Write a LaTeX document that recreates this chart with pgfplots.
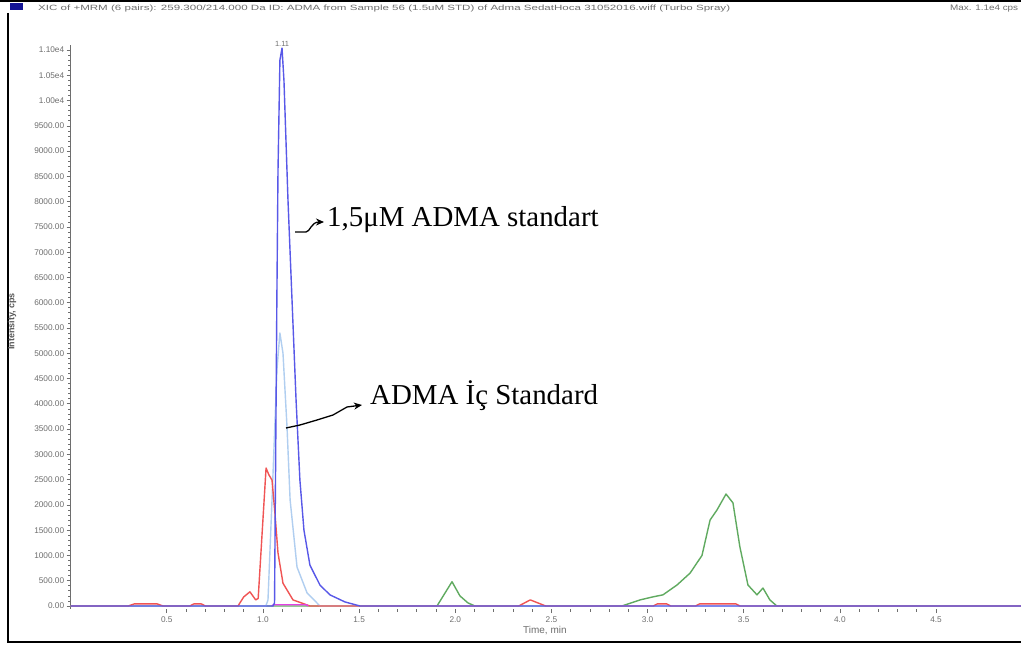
\documentclass[border=0pt]{standalone}
\usepackage{fontspec}
\setmainfont{Liberation Serif}
\newfontfamily\arialfont{Liberation Sans}
\usepackage{pgfplots}
\pgfplotsset{compat=1.18}
\usetikzlibrary{arrows.meta}
\definecolor{adblue}{RGB}{88,88,232}
\definecolor{adlight}{RGB}{176,206,240}
\definecolor{adred}{RGB}{240,84,84}
\definecolor{adgreen}{RGB}{96,170,96}
\definecolor{admag}{RGB}{228,64,228}
\definecolor{tickgray}{RGB}{110,110,110}
\definecolor{hdrblue}{RGB}{20,20,150}

\begin{document}
\begin{tikzpicture}
\useasboundingbox (0bp,0bp) rectangle (1021bp,646bp);
\begin{scope}[x=1bp,y=1bp]
\fill[white] (0,0) rectangle (1021,646);
% frame
\draw[black, line width=2.5bp] (0,645) -- (1021,645);
\draw[black, line width=2.5bp] (8,633) -- (8,4) -- (1021,4);
\fill[hdrblue] (10,636) rectangle (23,643);
\node[anchor=west, inner sep=0pt, text=tickgray] at (38,637.5)
  {\resizebox{692bp}{5.5bp}{\arialfont XIC of +MRM (6 pairs): 259.300/214.000 Da ID: ADMA from Sample 56 (1.5uM STD) of Adma SedatHoca 31052016.wiff (Turbo Spray)}};
\node[anchor=west, inner sep=0pt, text=tickgray] at (950,637.5)
  {\resizebox{68bp}{5.5bp}{\arialfont Max. 1.1e4 cps}};
\end{scope}

\begin{axis}[
  at={(70.7bp,37bp)}, anchor=south west,
  scale only axis, width=950.3bp, height=564bp,
  xmin=0, xmax=4.942, ymin=-60, ymax=11100,
  scaled y ticks=false, scaled x ticks=false,
  axis x line=bottom, axis y line=left,
  axis line style={-},
  x axis line style={draw=none},
  y axis line style={tickgray, line width=0.9bp},
  tick style={tickgray, line width=0.7bp},
  tick align=outside,
  major tick length=4bp, minor tick length=2.5bp,
  xtick={0.5,1,1.5,2,2.5,3,3.5,4,4.5},
  xticklabels={0.5,1.0,1.5,2.0,2.5,3.0,3.5,4.0,4.5},
  minor x tick num=4,
  ytick={0,500,...,11000},
  yticklabels={0.00,500.00,1000.00,1500.00,2000.00,2500.00,3000.00,3500.00,4000.00,4500.00,5000.00,5500.00,6000.00,6500.00,7000.00,7500.00,8000.00,8500.00,9000.00,9500.00,1.00e4,1.05e4,1.10e4},
  minor y tick num=4,
  ticklabel style={font=\arialfont\fontsize{8.3}{9}\selectfont, text=tickgray},
  yticklabel style={xshift=1bp},
  xlabel={Time, min},
  xlabel style={at={(axis description cs:0.499,-0.039)}, anchor=center,
    font=\arialfont\fontsize{10}{11}\selectfont, text=tickgray},
  ylabel={Intensity, cps},
  ylabel style={at={(axis description cs:-0.0618,0.51)}, anchor=center,
    font=\arialfont\bfseries\fontsize{9}{10}\selectfont, text=tickgray!80!black},
  clip=false,
  every axis plot/.append style={line width=1.4bp, line join=round},
]
% green
\addplot[adgreen] coordinates {(0,0) (1.905,0) (1.983,480) (2.024,200) (2.066,60) (2.102,0)
 (2.867,0) (2.961,120) (3.028,180) (3.080,220) (3.153,415) (3.221,650) (3.283,1000)
 (3.325,1700) (3.361,1900) (3.408,2215) (3.444,2040) (3.480,1170) (3.522,415)
 (3.569,220) (3.600,355) (3.636,120) (3.672,0) (4.942,0)};
% light blue (internal standard)
\addplot[adlight] coordinates {(0,0) (1.015,0) (1.026,120) (1.047,2100) (1.073,4700)
 (1.088,5400) (1.104,5000) (1.125,3540) (1.141,2100) (1.177,770) (1.229,260) (1.296,0) (4.942,0)};
% red
\addplot[adred] coordinates {(0,0) (0.30,0) (0.33,40) (0.45,40) (0.48,0) (0.62,0) (0.64,40)
 (0.68,40) (0.70,0) (0.87,0) (0.90,180) (0.932,280) (0.962,120) (0.975,150) (1.016,2730)
 (1.030,2600) (1.047,2490) (1.062,1840) (1.078,1050) (1.104,450) (1.156,120) (1.244,0)
 (2.33,0) (2.36,60) (2.39,120) (2.43,60) (2.47,0) (3.03,0) (3.05,40) (3.10,40) (3.12,0)
 (3.25,0) (3.27,40) (3.46,40) (3.48,0) (4.942,0)};
% magenta
\addplot[admag] coordinates {(1.045,0) (1.055,25) (1.225,25) (1.235,0)};
% blue (ADMA standard)
\addplot[adblue] coordinates {(0,0) (1.052,0) (1.060,60) (1.066,3000) (1.072,6000)
 (1.078,8600) (1.088,10800) (1.099,11040) (1.109,10400) (1.130,8030) (1.151,6050)
 (1.172,4075) (1.192,2490) (1.213,1500) (1.244,810) (1.296,415) (1.348,220)
 (1.426,80) (1.504,0) (4.942,0)};
\node[above, inner sep=1.5bp, text=tickgray, font=\arialfont\fontsize{7.5}{8}\selectfont]
  at (axis cs:1.099,11040) {1.11};
\end{axis}

% annotations
\begin{scope}[x=1bp,y=1bp]
\draw[black, line width=1.3bp, -{Stealth[length=8bp,width=7bp]}]
  (295,414) -- (306,414) .. controls (310,414) and (311,424) .. (324,424);
\node[anchor=base west, inner sep=0pt, font=\fontsize{29}{30}\selectfont] at (327,419) {1,5μM ADMA standart};
\draw[black, line width=1.3bp, -{Stealth[length=8bp,width=7bp]}]
  (286,218) -- (300,221) -- (317,226) -- (333,231) -- (347,239) -- (362,241);
\node[anchor=base west, inner sep=0pt, font=\fontsize{29}{30}\selectfont] at (370,242) {ADMA İç Standard};
\end{scope}
\end{tikzpicture}
\end{document}
